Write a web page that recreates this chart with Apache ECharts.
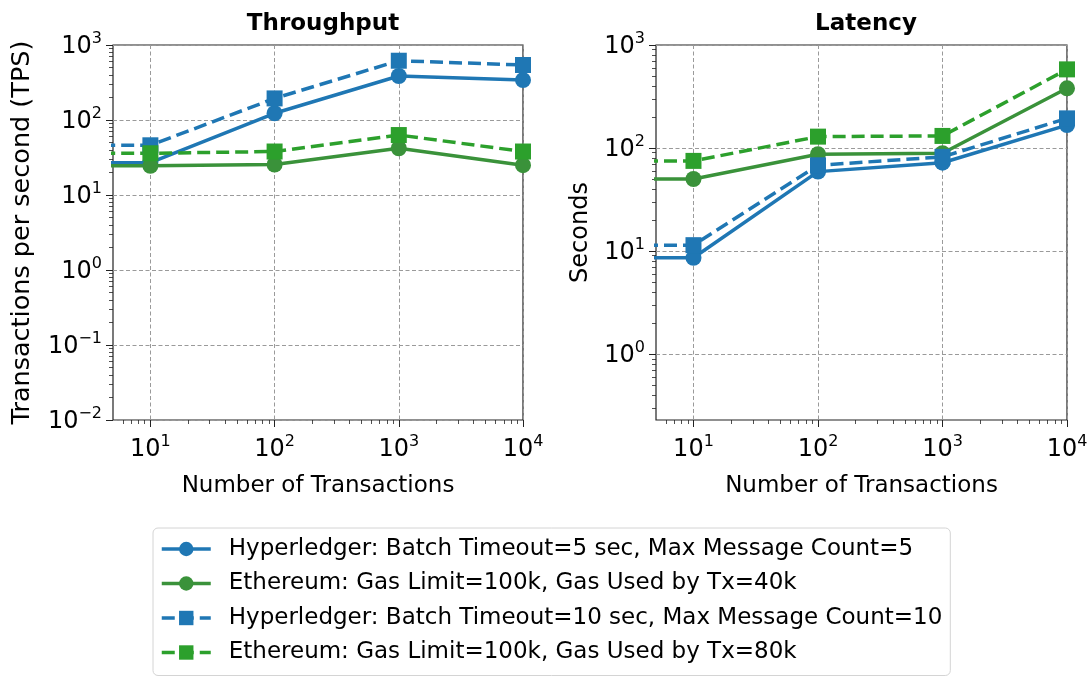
<!DOCTYPE html>
<html>
<head>
<meta charset="utf-8">
<script src="https://cdn.jsdelivr.net/npm/echarts@6/dist/echarts.min.js"></script>
<style>
html,body{margin:0;padding:0;background:#fff;}
#chart{width:1091px;height:677px;}
</style>
</head>
<body>
<div id="chart"></div>
<script>
// ---- data ----
const txCounts = [1, 10, 100, 1000, 10000];
const seriesNames = [
  'Hyperledger: Batch Timeout=5 sec, Max Message Count=5',
  'Ethereum: Gas Limit=100k, Gas Used by Tx=40k',
  'Hyperledger: Batch Timeout=10 sec, Max Message Count=10',
  'Ethereum: Gas Limit=100k, Gas Used by Tx=80k'
];
// Throughput (TPS)
const tpsHL5   = [27, 27, 123, 386, 341];
const tpsEth40 = [24.5, 24.5, 25.5, 42, 25];
const tpsHL10  = [46, 46, 194, 617, 541];
const tpsEth80 = [36, 36, 38, 63, 38];
// Latency (seconds)
const latHL5   = [8.6, 8.6, 59, 72, 167];
const latEth40 = [50, 50, 87, 89, 380];
const latHL10  = [11.4, 11.4, 68, 82, 194];
const latEth80 = [75, 75, 129, 131, 580];

const xTickValues = [10, 100, 1000, 10000];
const tpsTickValues = [0.01, 0.1, 1, 10, 100, 1000];
const latTickValues = [1, 10, 100, 1000];

// ---- helpers ----
const FONT = 'DejaVu Sans';
const colors = ['#1f77b4', '#3a923a', '#1f77b4', '#2ca02c'];
const symbols = ['circle', 'circle', 'rect', 'rect'];
const dashed = [false, false, true, true];

function minorTicks(lo, hi) {
  const out = [];
  for (let e = -3; e <= 4; e++) {
    for (let m = 2; m <= 9; m++) {
      const v = m * Math.pow(10, e);
      if (v > lo && v < hi) out.push(+v.toPrecision(6));
    }
  }
  return out;
}
function powLabel(v) {
  const e = Math.round(Math.log10(v));
  if (Math.abs(Math.log10(v) - e) > 1e-6) return '';
  const s = e < 0 ? '\u2212' + (-e) : String(e);
  return '{b|10}{s|' + s + '}';
}
const rich = {
  b: { fontFamily: FONT, fontSize: 24, color: '#000', verticalAlign: 'bottom', lineHeight: 28 },
  s: { fontFamily: FONT, fontSize: 16, color: '#000', verticalAlign: 'top', lineHeight: 12 }
};

const X_MIN = 5, X_MAX = 10000;
const TPS_MIN = 0.01, TPS_MAX = 1000;
const LAT_MIN = 0.229, LAT_MAX = 1000;

const gridL = { left: 113, top: 45, width: 410, height: 375 };
const gridR = { left: 656, top: 45, width: 411, height: 375 };

const splitStyle = { color: '#9a9a9a', type: [4, 2.5], width: 1 };

function mainX(gi) {
  return {
    type: 'log', logBase: 10, gridIndex: gi, min: X_MIN, max: X_MAX,
    name: 'Number of Transactions', nameLocation: 'middle', nameGap: 55,
    nameTextStyle: { fontFamily: FONT, fontSize: 23, color: '#000' },
    axisLine: { show: false },
    axisTick: { show: true, inside: false, length: 7, customValues: xTickValues, lineStyle: { color: '#222', width: 1 } },
    axisLabel: { customValues: xTickValues, formatter: powLabel, rich: rich, margin: 14 },
    splitLine: { show: true, lineStyle: splitStyle },
    minorTick: { show: false }, minorSplitLine: { show: false }
  };
}
function mainY(gi, mn, mx, ticks, name, gap, nameSize) {
  return {
    type: 'log', logBase: 10, gridIndex: gi, min: mn, max: mx,
    name: name, nameLocation: 'middle', nameGap: gap,
    nameTextStyle: { fontFamily: FONT, fontSize: nameSize, color: '#000' },
    axisLine: { show: false },
    axisTick: { show: true, inside: false, length: 7, customValues: ticks, lineStyle: { color: '#222', width: 1 } },
    axisLabel: { customValues: ticks, formatter: powLabel, rich: rich, margin: 11 },
    splitLine: { show: true, lineStyle: splitStyle }
  };
}
function minorAxis(gi, mn, mx) {
  return {
    type: 'log', logBase: 10, gridIndex: gi, min: mn, max: mx,
    axisLine: { show: false },
    axisTick: { show: true, inside: false, length: 4, customValues: minorTicks(mn, mx), lineStyle: { color: '#222', width: 0.8 } },
    axisLabel: { show: false },
    splitLine: { show: false }
  };
}

function makeSeries(values, idx, xi, yi) {
  return {
    type: 'line', name: seriesNames[idx], xAxisIndex: xi, yAxisIndex: yi,
    data: txCounts.map((x, i) => [x, values[i]]),
    symbol: symbols[idx], symbolSize: 16, showAllSymbol: true,
    clip: true,
    itemStyle: { color: colors[idx] },
    lineStyle: { color: colors[idx], width: 3.5, type: dashed[idx] ? [13, 6] : 'solid' },
    emphasis: { disabled: true },
    animation: false
  };
}

const option = {
  animation: false,
  backgroundColor: '#fff',
  title: [
    { text: 'Throughput', left: 318, top: 8, textAlign: 'center',
      textStyle: { fontFamily: FONT, fontSize: 23, fontWeight: 'bold', color: '#000' } },
    { text: 'Latency', left: 861, top: 8, textAlign: 'center',
      textStyle: { fontFamily: FONT, fontSize: 23, fontWeight: 'bold', color: '#000' } }
  ],
  grid: [
    Object.assign({ show: true, borderColor: '#222', borderWidth: 1.2, backgroundColor: 'transparent' }, gridL),
    Object.assign({ show: true, borderColor: '#222', borderWidth: 1.2, backgroundColor: 'transparent' }, gridR),
    Object.assign({ show: false }, gridL),
    Object.assign({ show: false }, gridR)
  ],
  xAxis: [mainX(0), mainX(1), minorAxis(2, X_MIN, X_MAX), minorAxis(3, X_MIN, X_MAX)],
  yAxis: [
    mainY(0, TPS_MIN, TPS_MAX, tpsTickValues, 'Transactions per second (TPS)', 78, 25.5),
    mainY(1, LAT_MIN, LAT_MAX, latTickValues, 'Seconds', 63, 24),
    minorAxis(2, TPS_MIN, TPS_MAX),
    minorAxis(3, LAT_MIN, LAT_MAX)
  ],
  legend: {
    orient: 'vertical', left: 153, top: 528,
    padding: [9, 8, 11, 7],
    itemWidth: 49, itemHeight: 18, itemGap: 10.5,
    borderColor: '#d4d4d4', borderWidth: 1, borderRadius: 5,
    lineStyle: { width: 3.5 },
    textStyle: { fontFamily: FONT, fontSize: 23, color: '#000', lineHeight: 24, padding: [0, 0, 0, 13] },
    data: seriesNames,
    selectedMode: false
  },
  series: [
    makeSeries(tpsHL5, 0, 0, 0),
    makeSeries(tpsEth40, 1, 0, 0),
    makeSeries(tpsHL10, 2, 0, 0),
    makeSeries(tpsEth80, 3, 0, 0),
    makeSeries(latHL5, 0, 1, 1),
    makeSeries(latEth40, 1, 1, 1),
    makeSeries(latHL10, 2, 1, 1),
    makeSeries(latEth80, 3, 1, 1)
  ]
};

const chart = echarts.init(document.getElementById('chart'), null, { renderer: 'canvas' });
chart.setOption(option);
</script>
</body>
</html>
